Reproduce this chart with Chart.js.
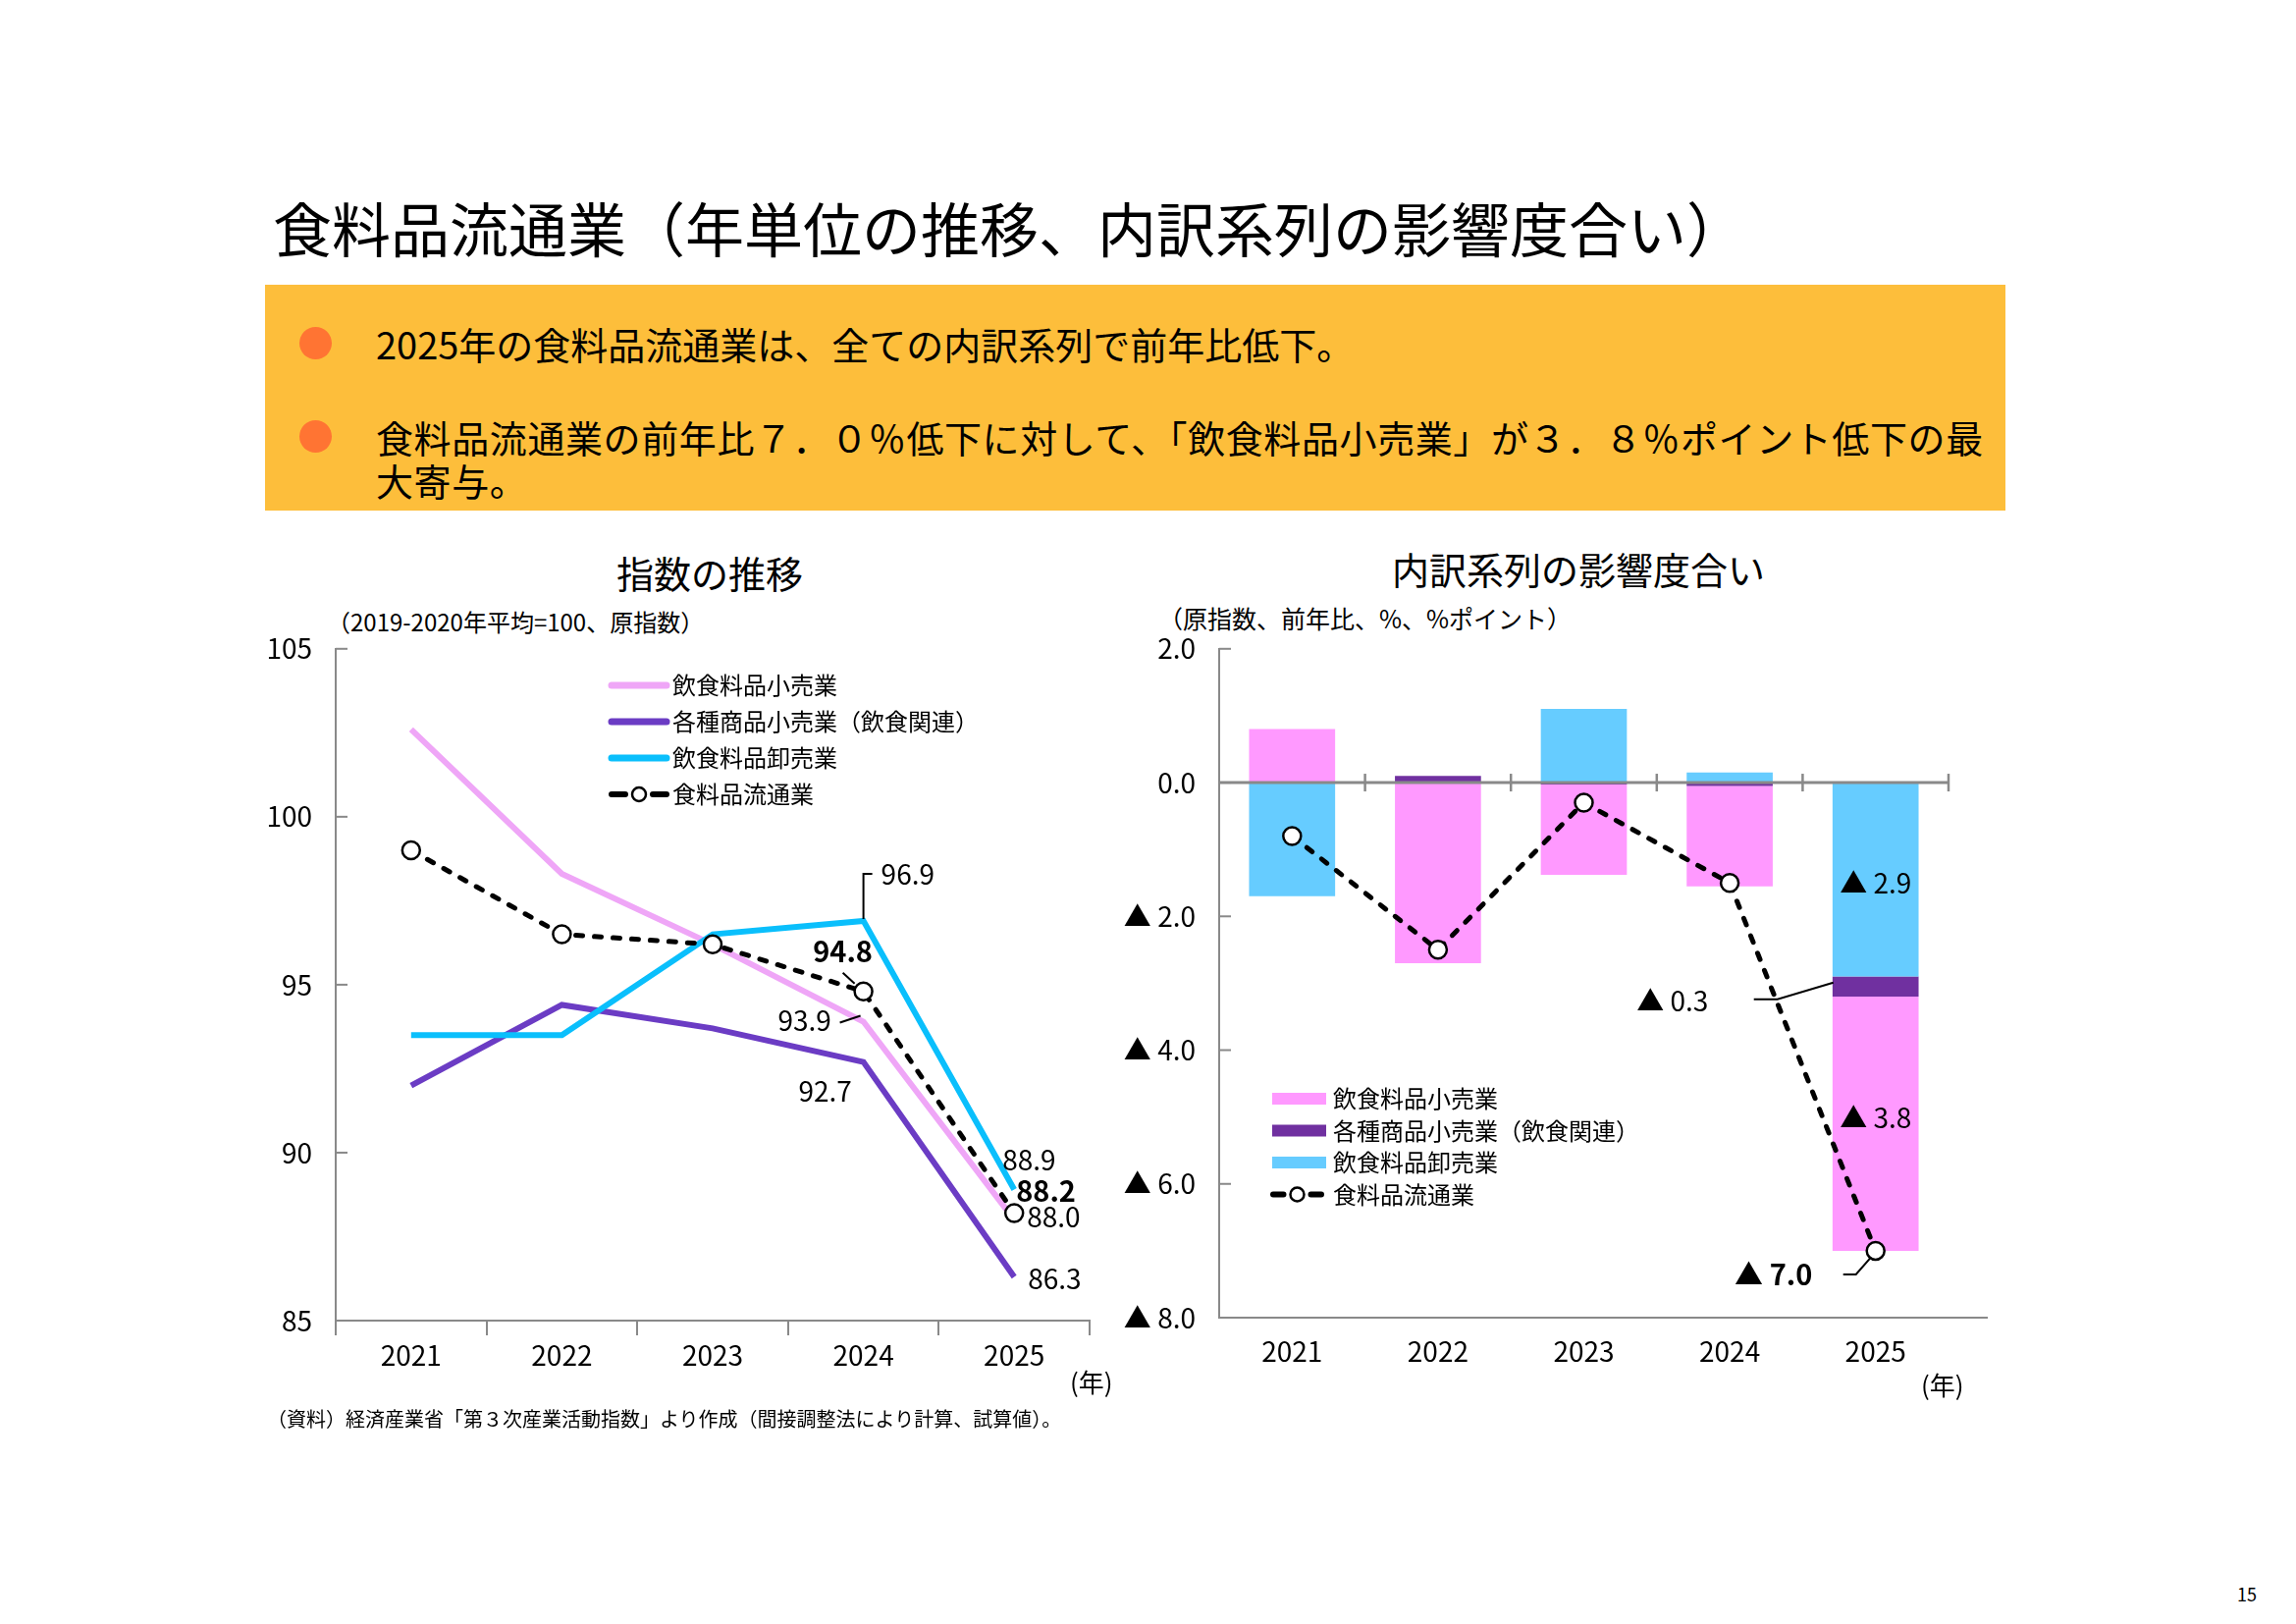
<!DOCTYPE html>
<html lang="ja">
<head>
<meta charset="utf-8">
<title>食料品流通業（年単位の推移、内訳系列の影響度合い）</title>
<script src="https://cdn.jsdelivr.net/npm/chart.js@4.4.1/dist/chart.umd.min.js"></script>
<style>
  html, body { margin: 0; padding: 0; background: #fff; }
  body { position: relative; width: 2339px; height: 1654px; overflow: hidden;
         font-family: "Noto Sans CJK JP", "Noto Sans", sans-serif; color: #000; }
  .txt { position: absolute; white-space: nowrap; }
  .title { left: 278px; top: 199px; font-size: 60px; line-height: 64px; }
  .box { position: absolute; left: 270px; top: 290px; width: 1773px; height: 230px; background: #FDBE3B; }
  .dot { position: absolute; width: 33px; height: 33px; border-radius: 50%; background: #FF7433; }
  .bullet { font-size: 38px; line-height: 44px; }
  .ctitle { width: 500px; text-align: center; font-size: 38px; line-height: 44px; }
  .sub { font-size: 24px; line-height: 28px; }
  canvas { position: absolute; }
</style>
</head>
<body>
<div class="txt title">食料品流通業（年単位の推移、内訳系列の影響度合い）</div>
<div class="box"></div>
<div class="dot" style="left:305px; top:333px;"></div>
<div class="txt bullet" style="left:383px; top:328px;">2025年の食料品流通業は、全ての内訳系列で前年比低下。</div>
<div class="dot" style="left:305px; top:428px;"></div>
<div class="txt bullet" style="left:383px; top:423px; letter-spacing:0.6px;">食料品流通業の前年比７．０％低下に対して、「飲食料品小売業」が３．８％ポイント低下の最<br>大寄与。</div>

<div class="txt ctitle" style="left:473px; top:561px;">指数の推移</div>
<div class="txt sub" style="left:333px; top:619px;">（2019-2020年平均=100、原指数）</div>
<div class="txt ctitle" style="left:1358px; top:557px;">内訳系列の影響度合い</div>
<div class="txt sub" style="left:1180px; top:615px; font-size:25px;">（原指数、前年比、%、%ポイント）</div>

<canvas id="indexChart" width="900" height="820" style="left:250px; top:620px;"></canvas>
<canvas id="contribChart" width="940" height="820" style="left:1130px; top:620px;"></canvas>

<div class="txt" style="left:1090px; top:1391px; font-size:26px; line-height:32px;">(年)</div>
<div class="txt" style="left:1957px; top:1394px; font-size:26px; line-height:32px;">(年)</div>
<div class="txt" style="left:272px; top:1433px; font-size:20px; line-height:24px;">（資料）経済産業省「第３次産業活動指数」より作成（間接調整法により計算、試算値）。</div>
<div class="txt" style="left:2279px; top:1612px; font-size:18px; line-height:22px;">15</div>

<script>
const years = ['2021', '2022', '2023', '2024', '2025'];
const seriesNames = ['飲食料品小売業', '各種商品小売業（飲食関連）', '飲食料品卸売業', '食料品流通業'];

// 指数の推移（2019-2020年平均=100、原指数）
const retailIndex = [102.6, 98.3, 96.2, 93.9, 88.0];
const generalIndex = [92.0, 94.4, 93.7, 92.7, 86.3];
const wholesaleIndex = [93.5, 93.5, 96.5, 96.9, 88.9];
const totalIndex = [99.0, 96.5, 96.2, 94.8, 88.2];
const indexTicks = [85, 90, 95, 100, 105];

// 内訳系列の影響度合い（前年比、%ポイント）
const retailContrib = [0.8, -2.7, -1.35, -1.5, -3.8];
const generalContrib = [0.0, 0.1, -0.03, -0.05, -0.3];
const wholesaleContrib = [-1.7, 0.0, 1.1, 0.15, -2.9];
const totalChange = [-0.8, -2.5, -0.3, -1.5, -7.0];
const changeTicks = [2, 0, -2, -4, -6, -8];

const FONT = '"Noto Sans CJK JP", "Noto Sans", sans-serif';
const AXIS = '#898989';
Chart.defaults.font.family = FONT;
Chart.defaults.color = '#000';

function triLabel(v) {
    return v < 0 ? '▲ ' + Math.abs(v).toFixed(1) : v.toFixed(1);
}

function plainLabel(v) {
    return v.toFixed(1);
}

// short tick marks pointing into the plot
const innerTicks = {
    id: 'innerTicks',
    afterDraw(chart) {
        const { ctx, chartArea, scales: { y } } = chart;
        ctx.save();
        ctx.strokeStyle = AXIS;
        ctx.lineWidth = 2;
        y.ticks.forEach(t => {
            const py = y.getPixelForValue(t.value);
            ctx.beginPath();
            ctx.moveTo(chartArea.left, py);
            ctx.lineTo(chartArea.left + 12, py);
            ctx.stroke();
        });
        ctx.restore();
    }
};

// value labels with optional leader lines
function notesPlugin(id, notes, fmt) {
    return {
        id: id,
        afterDatasetsDraw(chart) {
            const ctx = chart.ctx;
            ctx.save();
            notes.forEach(n => {
                const el = chart.getDatasetMeta(n.ds).data[n.i];
                const v = chart.data.datasets[n.ds].data[n.i];
                const ax = el.x;
                const ay = n.mid ? (el.y + el.base) / 2 : el.y;
                if (n.leader) {
                    ctx.strokeStyle = '#000';
                    ctx.lineWidth = 2;
                    ctx.beginPath();
                    n.leader.forEach((p, k) => {
                        if (k === 0) ctx.moveTo(ax + p[0], ay + p[1]);
                        else ctx.lineTo(ax + p[0], ay + p[1]);
                    });
                    ctx.stroke();
                }
                ctx.font = (n.bold ? 'bold 29px ' : '28px ') + FONT;
                ctx.fillStyle = '#000';
                ctx.textAlign = n.align || 'center';
                ctx.textBaseline = 'middle';
                ctx.fillText(fmt(v), ax + n.dx, ay + n.dy);
            });
            ctx.restore();
        }
    };
}

function drawMarkerSample(ctx, x0, x1, y) {
    const cx = (x0 + x1) / 2;
    ctx.save();
    ctx.strokeStyle = '#000';
    ctx.lineWidth = 6;
    ctx.lineCap = 'round';
    ctx.beginPath();
    ctx.moveTo(x0 + 3, y); ctx.lineTo(cx - 14, y);
    ctx.moveTo(cx + 14, y); ctx.lineTo(x1 - 3, y);
    ctx.stroke();
    ctx.beginPath();
    ctx.arc(cx, y, 7, 0, Math.PI * 2);
    ctx.fillStyle = '#fff';
    ctx.fill();
    ctx.lineWidth = 2.5;
    ctx.stroke();
    ctx.restore();
}

// ---------- 指数の推移 ----------
const indexNotes = [
    { ds: 2, i: 3, dx: 18, dy: -48, align: 'left', leader: [[0, -2], [0, -48], [9, -48]] },
    { ds: 3, i: 3, dx: -21, dy: -41, bold: true, leader: [[-21, -19], [-9, -8]] },
    { ds: 0, i: 3, dx: -60, dy: -1, leader: [[-24, 1], [-3, -6]] },
    { ds: 1, i: 3, dx: -39, dy: 30 },
    { ds: 2, i: 4, dx: -12, dy: -30, align: 'left' },
    { ds: 3, i: 4, dx: 2, dy: -23, align: 'left', bold: true },
    { ds: 0, i: 4, dx: 13, dy: -3, align: 'left' },
    { ds: 1, i: 4, dx: 14, dy: 2, align: 'left' }
];

const indexLegend = {
    id: 'indexLegend',
    afterDraw(chart) {
        const ctx = chart.ctx;
        const x0 = 370, x1 = 432, y0 = 78, gap = 37;
        ctx.save();
        chart.data.datasets.forEach((ds, k) => {
            const y = y0 + k * gap;
            if (ds.borderDash) {
                drawMarkerSample(ctx, x0, x1, y);
            } else {
                ctx.strokeStyle = ds.borderColor;
                ctx.lineWidth = 7;
                ctx.lineCap = 'round';
                ctx.beginPath();
                ctx.moveTo(x0 + 3, y);
                ctx.lineTo(x1 - 3, y);
                ctx.stroke();
            }
            ctx.font = '24px ' + FONT;
            ctx.fillStyle = '#000';
            ctx.textAlign = 'left';
            ctx.textBaseline = 'middle';
            ctx.fillText(ds.label, x1 + 3, y);
        });
        ctx.restore();
    }
};

new Chart(document.getElementById('indexChart'), {
    type: 'line',
    data: {
        labels: years,
        datasets: [
            { label: seriesNames[0], data: retailIndex, borderColor: '#EFA6F7', borderWidth: 6, pointRadius: 0, order: 3 },
            { label: seriesNames[1], data: generalIndex, borderColor: '#6B3CC4', borderWidth: 6, pointRadius: 0, order: 2 },
            { label: seriesNames[2], data: wholesaleIndex, borderColor: '#0ABFFC', borderWidth: 6, pointRadius: 0, order: 1 },
            {
                label: seriesNames[3], data: totalIndex, borderColor: '#000', borderWidth: 5,
                borderDash: [7, 12], borderCapStyle: 'round',
                pointRadius: 9, pointBackgroundColor: '#fff', pointBorderColor: '#000', pointBorderWidth: 2.5,
                order: 0
            }
        ]
    },
    options: {
        responsive: false,
        animation: false,
        devicePixelRatio: 1,
        events: [],
        layout: { padding: { left: 0, top: 38, right: 40, bottom: 0 } },
        plugins: { legend: { display: false }, tooltip: { enabled: false } },
        scales: {
            x: {
                offset: true,
                grid: { offset: true, drawOnChartArea: false, drawTicks: true, tickLength: 15, color: AXIS, lineWidth: 2 },
                border: { color: AXIS, width: 2 },
                ticks: { font: { size: 28 }, padding: 4 },
                afterFit: s => { s.height = 95; }
            },
            y: {
                min: 85,
                max: 105,
                afterBuildTicks: s => { s.ticks = indexTicks.map(v => ({ value: v })); },
                grid: { drawOnChartArea: false, drawTicks: false },
                border: { color: AXIS, width: 2 },
                ticks: { font: { size: 28 }, padding: 24 },
                afterFit: s => { s.width = 92; }
            }
        }
    },
    plugins: [innerTicks, notesPlugin('indexNotes', indexNotes, plainLabel), indexLegend]
});

// ---------- 内訳系列の影響度合い ----------
const contribNotes = [
    { ds: 0, i: 4, dx: 0, dy: 4, mid: true },
    { ds: 2, i: 4, dx: 0, dy: -6, mid: true },
    { ds: 1, i: 4, dx: -207, dy: 15, mid: true, leader: [[-124, 13], [-100, 13], [-43, -4]] },
    { ds: 3, i: 4, dx: -104, dy: 24, bold: true, leader: [[-33, 24], [-20, 24], [-5, 7]] }
];

const zeroLine = {
    id: 'zeroLine',
    beforeDatasetDraw(chart, args) {
        if (args.index !== 3) return;
        const { ctx, chartArea, scales: { x, y } } = chart;
        const y0 = y.getPixelForValue(0);
        ctx.save();
        ctx.strokeStyle = AXIS;
        ctx.lineWidth = 3;
        ctx.beginPath();
        ctx.moveTo(chartArea.left, y0);
        ctx.lineTo(chartArea.right, y0);
        ctx.stroke();
        ctx.lineWidth = 2.5;
        for (let k = 1; k <= years.length; k++) {
            const bx = k < years.length
                ? (x.getPixelForValue(k - 1) + x.getPixelForValue(k)) / 2
                : chartArea.right;
            ctx.beginPath();
            ctx.moveTo(bx, y0 - 9);
            ctx.lineTo(bx, y0 + 9);
            ctx.stroke();
        }
        // bottom axis runs a little past the plot
        ctx.lineWidth = 2;
        ctx.beginPath();
        ctx.moveTo(chartArea.right - 1, chartArea.bottom);
        ctx.lineTo(chartArea.right + 40, chartArea.bottom);
        ctx.stroke();
        ctx.restore();
    }
};

const contribLegend = {
    id: 'contribLegend',
    afterDraw(chart) {
        const ctx = chart.ctx;
        const x0 = 166, x1 = 221, y0 = 499, gap = 32.5;
        const order = [2, 1, 0, 3];
        ctx.save();
        order.forEach((d, k) => {
            const ds = chart.data.datasets[d];
            const y = y0 + k * gap;
            if (ds.type === 'line') {
                drawMarkerSample(ctx, x0 - 2, x1 - 2, y);
            } else {
                ctx.fillStyle = ds.backgroundColor;
                ctx.fillRect(x0, y - 6, x1 - x0, 12);
            }
            ctx.font = '24px ' + FONT;
            ctx.fillStyle = '#000';
            ctx.textAlign = 'left';
            ctx.textBaseline = 'middle';
            ctx.fillText(ds.label, x1 + 7, y);
        });
        ctx.restore();
    }
};

new Chart(document.getElementById('contribChart'), {
    type: 'bar',
    data: {
        labels: years,
        datasets: [
            { label: seriesNames[2], data: wholesaleContrib, backgroundColor: '#66CCFF', stack: 'parts', order: 1 },
            { label: seriesNames[1], data: generalContrib, backgroundColor: '#7030A0', stack: 'parts', order: 1 },
            { label: seriesNames[0], data: retailContrib, backgroundColor: '#FF99FF', stack: 'parts', order: 1 },
            {
                type: 'line', label: seriesNames[3], data: totalChange, stack: 'total', order: 0,
                borderColor: '#000', borderWidth: 5, borderDash: [7, 12], borderCapStyle: 'round',
                pointRadius: 9, pointBackgroundColor: '#fff', pointBorderColor: '#000', pointBorderWidth: 2.5
            }
        ]
    },
    options: {
        responsive: false,
        animation: false,
        devicePixelRatio: 1,
        events: [],
        layout: { padding: { left: 0, top: 38, right: 85, bottom: 0 } },
        plugins: { legend: { display: false }, tooltip: { enabled: false } },
        datasets: { bar: { categoryPercentage: 1, barPercentage: 0.59 } },
        scales: {
            x: {
                stacked: true,
                grid: { display: false, drawTicks: false },
                border: { color: AXIS, width: 2 },
                ticks: { font: { size: 28 }, padding: 18 },
                afterFit: s => { s.height = 98; }
            },
            y: {
                stacked: true,
                min: -8,
                max: 2,
                afterBuildTicks: s => { s.ticks = changeTicks.map(v => ({ value: v })); },
                grid: { display: false, drawTicks: false },
                border: { color: AXIS, width: 2 },
                ticks: { font: { size: 28 }, padding: 24, callback: v => triLabel(v) },
                afterFit: s => { s.width = 112; }
            }
        }
    },
    plugins: [zeroLine, innerTicks, notesPlugin('contribNotes', contribNotes, triLabel), contribLegend]
});
</script>
</body>
</html>
